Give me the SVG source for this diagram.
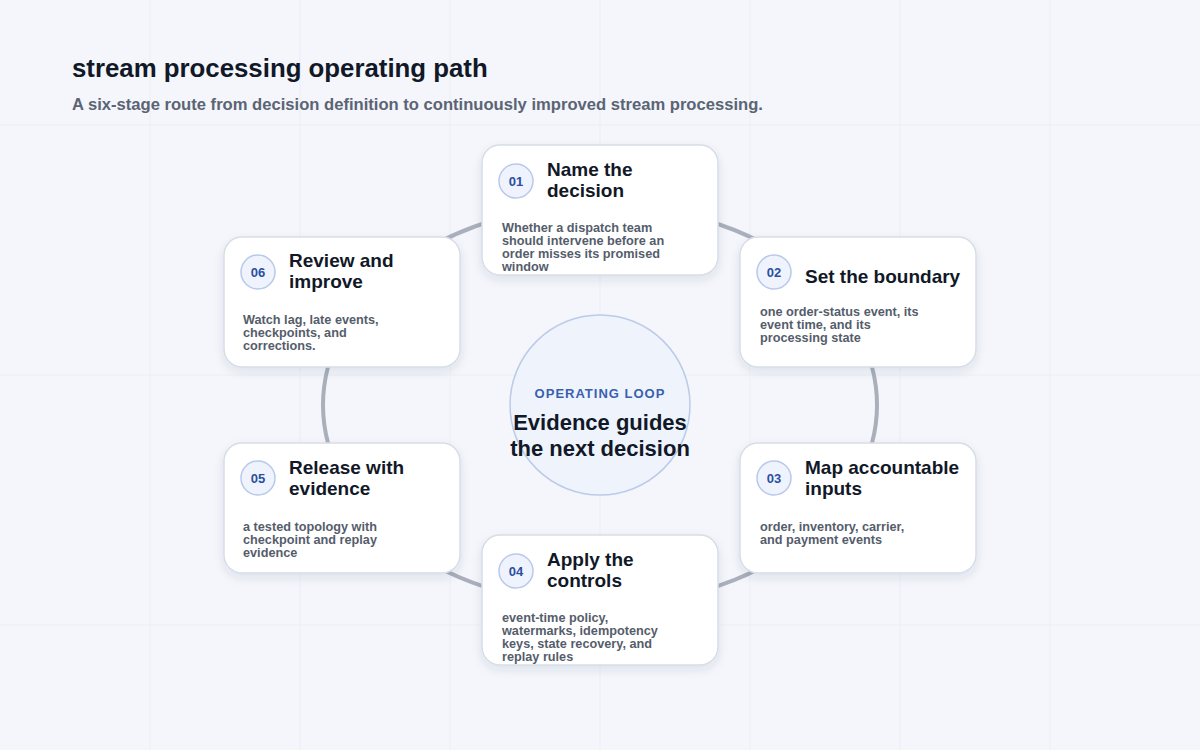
<svg xmlns="http://www.w3.org/2000/svg" width="1200" height="750" viewBox="0 0 1200 750">
<style>
text{font-family:"Liberation Sans",Arial,sans-serif}
.card{fill:#fff;stroke:#d7dde7;stroke-width:1.5}
.badge{fill:#eef3fd;stroke:#b9c9ea;stroke-width:1.5}
.num{font-size:13px;font-weight:bold;fill:#2c4f9e;text-anchor:middle}
.tt{font-size:19px;font-weight:bold;fill:#111827}
.bd{font-size:12.7px;font-weight:bold;fill:#555d6b}
.grid{stroke:#ebeef5;stroke-width:1}
</style>
<defs>
<filter id="sh" x="-20%" y="-20%" width="140%" height="150%"><feDropShadow dx="0" dy="4" stdDeviation="5" flood-color="#1f2a44" flood-opacity="0.1"/></filter>
<clipPath id="c1"><rect x="482" y="145" width="236" height="130" rx="18"/></clipPath>
<clipPath id="c4"><rect x="482" y="535" width="236" height="130" rx="18"/></clipPath>
</defs>
<rect width="1200" height="750" fill="#f4f6fb"/>
<g>
<line class="grid" x1="150" y1="0" x2="150" y2="750"/><line class="grid" x1="300" y1="0" x2="300" y2="750"/><line class="grid" x1="450" y1="0" x2="450" y2="750"/><line class="grid" x1="600" y1="0" x2="600" y2="750"/><line class="grid" x1="750" y1="0" x2="750" y2="750"/><line class="grid" x1="900" y1="0" x2="900" y2="750"/><line class="grid" x1="1050" y1="0" x2="1050" y2="750"/>
<line class="grid" x1="0" y1="125" x2="1200" y2="125"/><line class="grid" x1="0" y1="375" x2="1200" y2="375"/><line class="grid" x1="0" y1="625" x2="1200" y2="625"/>
</g>
<text x="72" y="77" font-size="25.8" font-weight="bold" fill="#111827">stream processing operating path</text>
<text x="72" y="110" font-size="16.6" font-weight="bold" fill="#5b6474">A six-stage route from decision definition to continuously improved stream processing.</text>
<g id="connectors">
<ellipse cx="600" cy="405" rx="277" ry="200" fill="none" stroke="#a9afbb" stroke-width="4"/>
</g>
<g id="center">
<circle cx="600" cy="405" r="90" fill="#eef3fc" stroke="#bccbe8" stroke-width="1.5"/>
<text x="600" y="398" font-size="13" font-weight="bold" fill="#3a5fb0" text-anchor="middle" letter-spacing="1">OPERATING LOOP</text>
<text x="600" y="430" font-size="22" font-weight="bold" fill="#111827" text-anchor="middle">Evidence guides</text>
<text x="600" y="456" font-size="22" font-weight="bold" fill="#111827" text-anchor="middle">the next decision</text>
</g>
<g id="n01">
<rect class="card" x="482" y="145" width="236" height="130" rx="18" filter="url(#sh)"/>
<circle class="badge" cx="516" cy="181" r="17"/><text class="num" x="516" y="186">01</text>
<text class="tt" x="547" y="176">Name the</text><text class="tt" x="547" y="197">decision</text>
<g clip-path="url(#c1)"><text class="bd" x="502" y="232">Whether a dispatch team</text><text class="bd" x="502" y="245">should intervene before an</text><text class="bd" x="502" y="258">order misses its promised</text><text class="bd" x="502" y="271">window</text></g>
</g>
<g id="n02">
<rect class="card" x="740" y="237" width="236" height="130" rx="18" filter="url(#sh)"/>
<circle class="badge" cx="774" cy="272" r="17"/><text class="num" x="774" y="277">02</text>
<text class="tt" x="805" y="283">Set the boundary</text>
<text class="bd" x="760" y="316">one order-status event, its</text><text class="bd" x="760" y="329">event time, and its</text><text class="bd" x="760" y="342">processing state</text>
</g>
<g id="n03">
<rect class="card" x="740" y="443" width="236" height="130" rx="18" filter="url(#sh)"/>
<circle class="badge" cx="774" cy="478" r="17"/><text class="num" x="774" y="483">03</text>
<text class="tt" x="805" y="474">Map accountable</text><text class="tt" x="805" y="495">inputs</text>
<text class="bd" x="760" y="531">order, inventory, carrier,</text><text class="bd" x="760" y="544">and payment events</text>
</g>
<g id="n04">
<rect class="card" x="482" y="535" width="236" height="130" rx="18" filter="url(#sh)"/>
<circle class="badge" cx="516" cy="571" r="17"/><text class="num" x="516" y="576">04</text>
<text class="tt" x="547" y="566">Apply the</text><text class="tt" x="547" y="587">controls</text>
<g clip-path="url(#c4)"><text class="bd" x="502" y="622">event-time policy,</text><text class="bd" x="502" y="635">watermarks, idempotency</text><text class="bd" x="502" y="648">keys, state recovery, and</text><text class="bd" x="502" y="661">replay rules</text></g>
</g>
<g id="n05">
<rect class="card" x="224" y="443" width="236" height="130" rx="18" filter="url(#sh)"/>
<circle class="badge" cx="258" cy="478" r="17"/><text class="num" x="258" y="483">05</text>
<text class="tt" x="289" y="474">Release with</text><text class="tt" x="289" y="495">evidence</text>
<text class="bd" x="243" y="531">a tested topology with</text><text class="bd" x="243" y="544">checkpoint and replay</text><text class="bd" x="243" y="557">evidence</text>
</g>
<g id="n06">
<rect class="card" x="224" y="237" width="236" height="130" rx="18" filter="url(#sh)"/>
<circle class="badge" cx="258" cy="272" r="17"/><text class="num" x="258" y="277">06</text>
<text class="tt" x="289" y="267">Review and</text><text class="tt" x="289" y="288">improve</text>
<text class="bd" x="243" y="324">Watch lag, late events,</text><text class="bd" x="243" y="337">checkpoints, and</text><text class="bd" x="243" y="350">corrections.</text>
</g>
</svg>
